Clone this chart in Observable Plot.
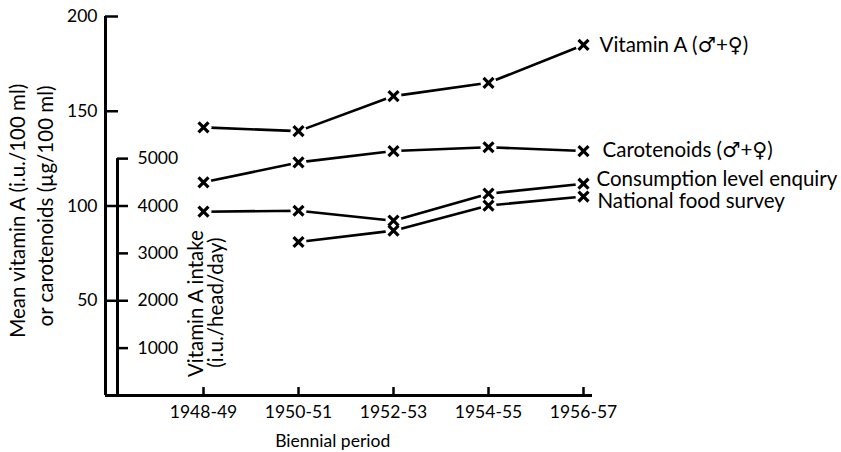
<!DOCTYPE html>
<html>
<head>
<meta charset="utf-8">
<script src="https://cdn.jsdelivr.net/npm/d3@7"></script>
<script src="https://cdn.jsdelivr.net/npm/@observablehq/plot@0.6"></script>
<style>
  html, body { margin: 0; padding: 0; background: #fff; }
  #chart { width: 841px; height: 452px; }
</style>
</head>
<body>
<div id="chart"></div>
<script>
// ---- data ----
const periods = ["1948-49", "1950-51", "1952-53", "1954-55", "1956-57"];
// mean vitamin A (i.u./100 ml), men + women
const vitaminA = [141.5, 139.5, 158, 165, 185];
// carotenoids (µg/100 ml), men + women
const carotenoids = [112.5, 123, 129, 131, 129];
// vitamin A intake (i.u./head/day)
const consumptionLevel = [3880, 3900, 3690, 4260, 4470];
const nationalFoodSurvey = [null, 3240, 3480, 4010, 4200];
// axis ticks
const outerTicks = [50, 100, 150, 200];
const intakeTicks = [1000, 2000, 3000, 4000, 5000];
const intakePerUnit = 40; // 4000 i.u./head/day sits level with 100 on the outer axis

const seriesKeys = ["vit", "car", "cle", "nfs"];
const seriesLabels = {
  vit: "Vitamin A (\u2642+\u2640)",
  car: "Carotenoids (\u2642+\u2640)",
  cle: "Consumption level enquiry",
  nfs: "National food survey"
};

const rows = [];
periods.forEach((p, i) => {
  rows.push({s: "vit", i, v: vitaminA[i]});
  rows.push({s: "car", i, v: carotenoids[i]});
  rows.push({s: "cle", i, v: consumptionLevel[i] / intakePerUnit});
  if (nationalFoodSurvey[i] != null) rows.push({s: "nfs", i, v: nationalFoodSurvey[i] / intakePerUnit});
});
const labelOffsets = {vit: [16, 1], car: [19, -1], cle: [13, -4], nfs: [14, 5]};

// layout
const W = 841, H = 452;
const mL = 105, mR = 246, mT = 16, mB = 57;
const step = 95;                       // px between periods
const xmin = -(203 - mL) / step;
const xmax = 4 + (W - mR - 583) / step;
const tickFont = 17.5, titleFont = 20.5;

const labelMarks = seriesKeys.map(s => {
  const last = rows.filter(r => r.s === s).at(-1);
  return Plot.text([last], {x: "i", y: "v", text: () => seriesLabels[s], textAnchor: "start",
    dx: labelOffsets[s][0], dy: labelOffsets[s][1], fontSize: titleFont});
});

const plot = Plot.plot({
  width: W, height: H,
  marginLeft: mL, marginRight: mR, marginTop: mT, marginBottom: mB,
  x: {domain: [xmin, xmax], axis: null},
  y: {domain: [0, 200], axis: null},
  style: {fontFamily: "Lato, 'DejaVu Sans', sans-serif", fontSize: "17px", color: "#000", background: "#fff"},
  marks: [
    // outer axis, baseline, inner axis
    Plot.ruleX([xmin], {y1: 0, y2: 200, strokeWidth: 3, stroke: "#000"}),
    Plot.ruleY([0], {x1: xmin, x2: 4 + 9 / step, strokeWidth: 3, stroke: "#000"}),
    Plot.ruleX([xmin], {y1: 0, y2: 5000 / intakePerUnit, dx: 12, strokeWidth: 3, stroke: "#000"}),
    // outer ticks (pointing right)
    Plot.ruleY(outerTicks, {x1: xmin, x2: xmin + 13 / step, strokeWidth: 2.5, stroke: "#000"}),
    // inner ticks
    Plot.ruleY(intakeTicks, {y: d => d / intakePerUnit, x1: xmin + 12 / step, x2: xmin + 23 / step, strokeWidth: 2.5, stroke: "#000"}),
    // x ticks pointing up
    Plot.ruleX(d3.range(periods.length), {y1: 0, y2: 4.2, strokeWidth: 2.5, stroke: "#000"}),
    // tick labels
    Plot.axisY(outerTicks, {anchor: "left", tickSize: 0, tickPadding: 8, label: null, fontSize: tickFont}),
    Plot.text(intakeTicks, {x: xmin, y: d => d / intakePerUnit, text: d => String(d), dx: 32, textAnchor: "start", fontSize: tickFont}),
    Plot.axisX(d3.range(periods.length), {tickFormat: i => periods[i], tickSize: 0, tickPadding: 10, label: null, fontSize: tickFont}),
    // axis titles
    Plot.text(["Mean vitamin A (i.u./100 ml)"], {x: xmin, y: 97.5, dx: -87, rotate: -90, fontSize: titleFont}),
    Plot.text(["or carotenoids (\u00b5g/100 ml)"], {x: xmin, y: 100, dx: -59, rotate: -90, fontSize: titleFont}),
    Plot.text(["Vitamin A intake"], {x: 0, y: 48.5, dx: -7, rotate: -90, fontSize: titleFont}),
    Plot.text(["(i.u./head/day)"], {x: 0, y: 49, dx: 13, rotate: -90, fontSize: titleFont}),
    Plot.text(["Biennial period"], {x: 1.36, y: 0, dy: 46, fontSize: tickFont}),
    // series
    Plot.line(rows, {x: "i", y: "v", z: "s", stroke: "#000", strokeWidth: 2.6}),
    Plot.dot(rows, {x: "i", y: "v", r: 8, fill: "#fff", stroke: null}),
    Plot.dot(rows, {x: "i", y: "v", symbol: "times", r: 4.6, stroke: "#000", strokeWidth: 3.2}),
    ...labelMarks
  ]
});
document.getElementById("chart").appendChild(plot);
</script>
</body>
</html>
